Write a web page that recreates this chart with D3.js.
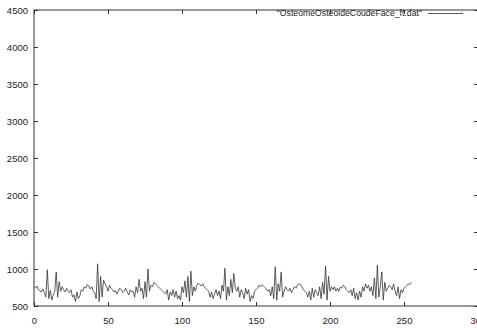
<!DOCTYPE html>
<html>
<head>
<meta charset="utf-8">
<script src="https://cdn.jsdelivr.net/npm/d3@7"></script>
<style>
  body { margin: 0; background: #fff; }
  svg { display: block; font-family: "Liberation Sans", Arial, sans-serif; }
</style>
</head>
<body>
<div id="chart"></div>
<script>
var svgWidth = 477;
var svgHeight = 328;

// series name and tick values
var seriesName = '"OsteomeOsteoideCoudeFace_ft.dat"';
var xTicks = [0, 50, 100, 150, 200, 250, 300];
var yTicks = [500, 1000, 1500, 2000, 2500, 3000, 3500, 4000, 4500];

// y values, one per index 0..255
var values = [
  760, 745, 770, 720, 700, 690, 730, 680, 620, 990, 600, 710, 580, 650, 700, 960,
  620, 830, 700, 760, 720, 690, 740, 700, 680, 720, 620, 650, 560, 690, 600, 640,
  720, 700, 760, 740, 790, 770, 730, 760, 700, 680, 600, 1070, 560, 900, 620, 850,
  800, 760, 700, 780, 740, 720, 690, 710, 660, 700, 740, 720, 680, 700, 740, 690,
  650, 720, 690, 700, 620, 760, 680, 860, 700, 740, 600, 830, 620, 1000, 700, 780,
  760, 820, 800, 780, 760, 740, 720, 700, 680, 660, 720, 580, 690, 640, 720, 620,
  700, 600, 640, 580, 760, 680, 840, 620, 900, 560, 970, 640, 760, 700, 780, 810,
  790, 770, 800, 760, 740, 720, 700, 620, 690, 600, 660, 720, 640, 700, 600, 780,
  700, 1010, 580, 760, 640, 860, 680, 940, 740, 700, 760, 620, 720, 680, 600, 740,
  660, 720, 560, 640, 600, 700, 720, 740, 780, 760, 790, 770, 750, 730, 700, 720,
  640, 760, 600, 1030, 580, 800, 700, 960, 620, 700, 760, 720, 700, 740, 680, 720,
  760, 740, 780, 800, 790, 760, 720, 700, 680, 620, 700, 580, 740, 620, 720, 680,
  640, 760, 600, 820, 660, 1040, 580, 900, 700, 760, 720, 760, 700, 740, 700, 760,
  740, 780, 760, 720, 700, 680, 720, 640, 740, 600, 680, 580, 700, 620, 760, 700,
  800, 740, 780, 700, 760, 640, 880, 600, 1050, 620, 760, 960, 580, 820, 700, 740,
  780, 760, 720, 800, 700, 640, 760, 600, 720, 680, 740, 760, 780, 800, 790, 820
];

var plot = { left: 34, top: 10, right: 478, bottom: 306 };

var svg = d3.select("#chart")
  .append("svg")
  .attr("width", svgWidth)
  .attr("height", svgHeight);

var xScale = d3.scaleLinear().domain([0, 300]).range([plot.left, plot.right]);
var yScale = d3.scaleLinear().domain([500, 4500]).range([plot.bottom, plot.top]);

var tickLen = 4;
var axisColor = "#333";
var labelSize = 9.5;

// border
svg.append("rect")
  .attr("x", plot.left)
  .attr("y", plot.top)
  .attr("width", plot.right - plot.left)
  .attr("height", plot.bottom - plot.top)
  .attr("fill", "none")
  .attr("stroke", axisColor)
  .attr("stroke-width", 1);

// y ticks, left and right (mirrored, pointing in)
yTicks.forEach(function (t) {
  var y = Math.round(yScale(t)) + 0.5;
  svg.append("line")
    .attr("x1", plot.left).attr("x2", plot.left + tickLen)
    .attr("y1", y).attr("y2", y)
    .attr("stroke", axisColor);
  svg.append("line")
    .attr("x1", plot.right).attr("x2", plot.right - tickLen)
    .attr("y1", y).attr("y2", y)
    .attr("stroke", axisColor);
  svg.append("text")
    .attr("x", plot.left - 6)
    .attr("y", y + 3.5)
    .attr("text-anchor", "end")
    .attr("font-size", labelSize)
    .attr("fill", "#222")
    .text(t);
});

// x ticks, bottom and top
xTicks.forEach(function (t) {
  var x = Math.round(xScale(t)) + 0.5;
  svg.append("line")
    .attr("x1", x).attr("x2", x)
    .attr("y1", plot.bottom).attr("y2", plot.bottom - tickLen)
    .attr("stroke", axisColor);
  svg.append("line")
    .attr("x1", x).attr("x2", x)
    .attr("y1", plot.top).attr("y2", plot.top + tickLen)
    .attr("stroke", axisColor);
  svg.append("text")
    .attr("x", x)
    .attr("y", plot.bottom + 18)
    .attr("text-anchor", "middle")
    .attr("font-size", labelSize)
    .attr("fill", "#222")
    .text(t);
});

// data line
var line = d3.line()
  .x(function (d, i) { return xScale(i); })
  .y(function (d) { return yScale(d); });

svg.append("path")
  .datum(values)
  .attr("d", line)
  .attr("fill", "none")
  .attr("stroke", "#333")
  .attr("stroke-width", 0.8);

// legend
svg.append("text")
  .attr("x", 422)
  .attr("y", 16)
  .attr("text-anchor", "end")
  .attr("font-size", 8.7)
  .attr("fill", "#222")
  .text(seriesName);

svg.append("line")
  .attr("x1", 428).attr("x2", 463)
  .attr("y1", 13.5).attr("y2", 13.5)
  .attr("stroke", "#333")
  .attr("stroke-width", 0.8);
</script>
</body>
</html>
